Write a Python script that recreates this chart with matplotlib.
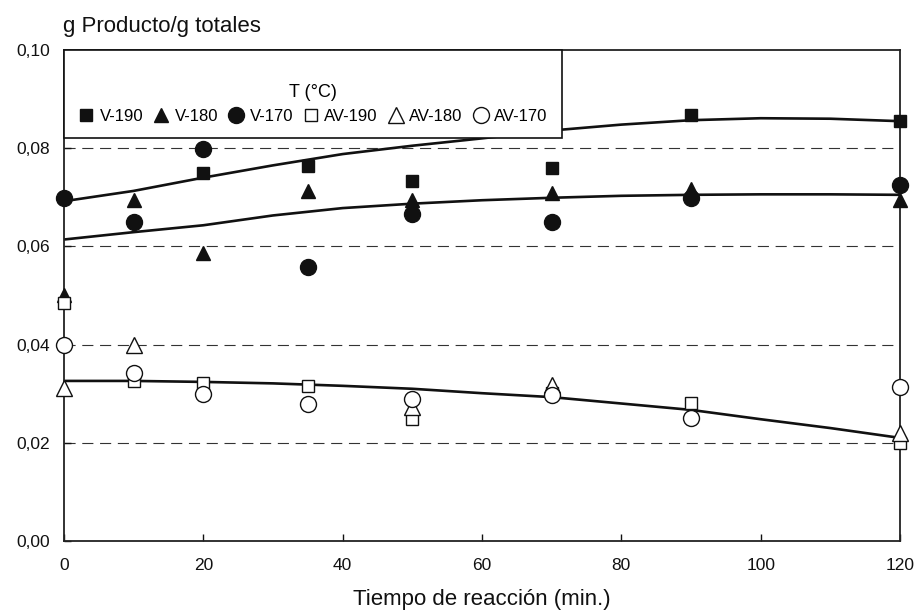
import matplotlib
matplotlib.use("Agg")
import matplotlib.pyplot as plt


OUT_PATH = "out.png"

# measured points (min, g producto / g totales)
v190_t = [20, 35, 50, 70, 90, 120]
v190_y = [0.0750, 0.0764, 0.0734, 0.0760, 0.0868, 0.0855]

v180_t = [0, 10, 20, 35, 50, 70, 90, 120]
v180_y = [0.0500, 0.0695, 0.0586, 0.0713, 0.0695, 0.0709, 0.0716, 0.0695]

v170_t = [0, 10, 20, 35, 50, 70, 90, 120]
v170_y = [0.0699, 0.0649, 0.0799, 0.0557, 0.0665, 0.0649, 0.0699, 0.0726]

av190_t = [0, 10, 20, 35, 50, 70, 90, 120]
av190_y = [0.0485, 0.0326, 0.0322, 0.0316, 0.0248, 0.0302, 0.0282, 0.0200]

av180_t = [0, 10, 50, 70, 120]
av180_y = [0.0311, 0.0400, 0.0272, 0.0318, 0.0220]

av170_t = [0, 10, 20, 35, 50, 70, 90, 120]
av170_y = [0.0400, 0.0343, 0.0299, 0.0279, 0.0289, 0.0298, 0.0251, 0.0313]

# fitted curves
fit_t = [0, 10, 20, 30, 40, 50, 60, 70, 80, 90, 100, 110, 120]
fit_upper = [0.0692, 0.0713, 0.0740, 0.0765, 0.0788, 0.0805, 0.0820,
             0.0836, 0.0848, 0.0857, 0.0861, 0.0860, 0.0855]
fit_middle = [0.0614, 0.0629, 0.0643, 0.0663, 0.0678, 0.0687, 0.0694,
              0.0699, 0.0703, 0.0705, 0.0706, 0.0706, 0.0705]
fit_lower = [0.0326, 0.0326, 0.0324, 0.0321, 0.0316, 0.0310, 0.0301,
             0.0293, 0.0280, 0.0267, 0.0248, 0.0230, 0.0210]

x_ticks = [0, 20, 40, 60, 80, 100, 120]
y_ticks = [0.00, 0.02, 0.04, 0.06, 0.08, 0.10]
y_tick_labels = ["0,00", "0,02", "0,04", "0,06", "0,08", "0,10"]
grid_levels = [0.02, 0.04, 0.06, 0.08]

INK = "#111111"
FONT = "Liberation Sans"


def draw_chart():
    plt.rcParams["font.family"] = [FONT, "DejaVu Sans"]
    fig = plt.figure(figsize=(9.15, 6.14), dpi=100)
    ax = fig.add_axes([0.0699, 0.1189, 0.9137, 0.7997])

    for level in grid_levels:
        ax.axhline(level, color="#333333", linewidth=0.8,
                   dashes=(10, 6), zorder=1)

    for curve in (fit_upper, fit_middle, fit_lower):
        ax.plot(fit_t, curve, color=INK, linewidth=1.9, zorder=2)

    filled = dict(color=INK, linestyle="none", zorder=3, clip_on=False)
    ax.plot(v190_t, v190_y, marker="s", markersize=8.5, label="V-190", **filled)
    ax.plot(v180_t, v180_y, marker="^", markersize=10.5, label="V-180", **filled)
    ax.plot(v170_t, v170_y, marker="o", markersize=11.5, label="V-170", **filled)

    hollow = dict(markerfacecolor="white", markeredgecolor=INK,
                  markeredgewidth=1.0, linestyle="none", zorder=4,
                  clip_on=False)
    ax.plot(av190_t, av190_y, marker="s", markersize=8.5, label="AV-190", **hollow)
    ax.plot(av180_t, av180_y, marker="^", markersize=11, label="AV-180", **hollow)
    ax.plot(av170_t, av170_y, marker="o", markersize=11.5, label="AV-170", **hollow)

    ax.set_xlim(0, 120)
    ax.set_ylim(0, 0.10)
    ax.set_xticks(x_ticks)
    ax.set_yticks(y_ticks)
    ax.set_yticklabels(y_tick_labels)
    ax.tick_params(direction="in", length=5, width=1, colors=INK,
                   labelsize=12.5, pad=10)
    ax.tick_params(axis="x", pad=12)
    for spine in ax.spines.values():
        spine.set_color("#222222")
        spine.set_linewidth(1.3)

    ax.set_xlabel("Tiempo de reacción (min.)", fontsize=16, color=INK,
                  labelpad=12)
    fig.text(63 / 915, 1 - 32 / 614, "g Producto/g totales", fontsize=16,
             color=INK, ha="left", va="baseline")

    leg = ax.legend(loc="upper left", bbox_to_anchor=(0, 1), borderaxespad=0,
                    ncol=6, title="\nT (°C)", fontsize=12, title_fontsize=13,
                    handlelength=1.0, handletextpad=0.3, columnspacing=0.58,
                    borderpad=0.85, fancybox=False, framealpha=1,
                    edgecolor=INK)
    leg.get_frame().set_linewidth(1.2)
    leg.set_zorder(5)

    fig.savefig(OUT_PATH, dpi=100)
    plt.close(fig)


if __name__ == "__main__":
    draw_chart()
